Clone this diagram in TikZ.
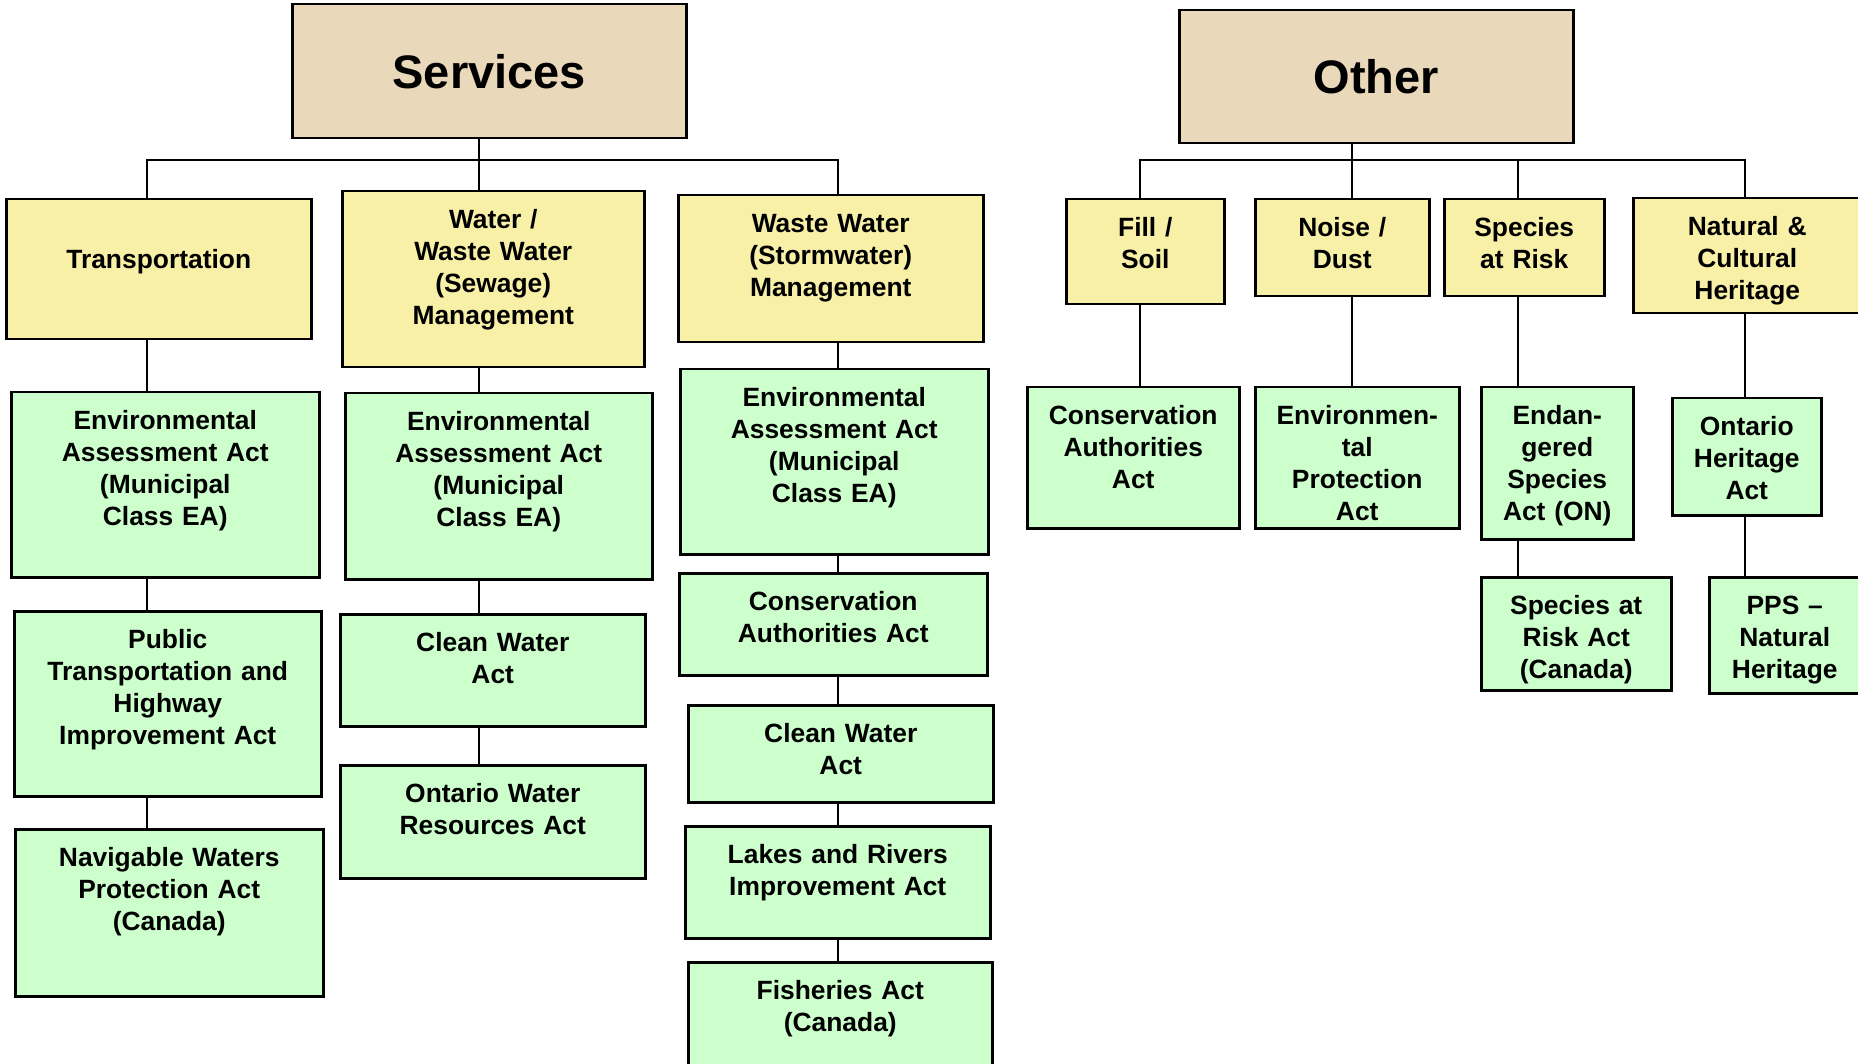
\documentclass[tikz,border=0pt]{standalone}
\usepackage{fontspec}
\setmainfont{Liberation Sans}
\usepackage{tikz}
\usetikzlibrary{calc}

\definecolor{headtan}{RGB}{233,216,185}
\definecolor{areayellow}{RGB}{249,240,168}
\definecolor{actgreen}{RGB}{204,255,204}

\begin{document}
\begin{tikzpicture}[x=1pt,y=-1pt]
    \tikzstyle{every node}+=[inner sep=0pt]
    \tikzstyle{head}=[draw=black, line width=2.5pt, fill=headtan, anchor=north west,
        font=\fontsize{47}{56}\selectfont\bfseries]
    \tikzstyle{area}=[draw=black, line width=2.5pt, fill=areayellow, anchor=north west,
        align=center, text height=37pt, font=\fontsize{26.4}{32}\selectfont\bfseries]
    \tikzstyle{act}=[area, fill=actgreen]
    \tikzstyle{link}=[draw=black, line width=2pt]
    \useasboundingbox (0,0) rectangle (1858,1064);

    % Services
    \node [head, minimum width=394pt, minimum height=134pt] (services) at (291,3) {Services};
    \node [area, text width=305pt, text height=69pt, text depth=71pt] (transport) at (5,198) {Transportation};
    \node [area, text width=302pt, text depth=139pt] (water) at (341,190) {Water /\\Waste Water\\(Sewage)\\Management};
    \node [area, text width=305pt, text depth=110pt] (storm) at (677,194) {Waste Water\\(Stormwater)\\Management};
    \node [act, text width=308pt, text depth=148pt] (eaa1) at (10,391) {Environmental\\Assessment Act\\(Municipal\\Class EA)};
    \node [act, text width=307pt, text depth=148pt] (public) at (13,610) {Public\\Transportation and\\Highway\\Improvement Act};
    \node [act, text width=308pt, text depth=130pt] (navig) at (14,828) {Navigable Waters\\Protection Act\\(Canada)};
    \node [act, text width=307pt, text depth=149pt] (eaa2) at (344,392) {Environmental\\Assessment Act\\(Municipal\\Class EA)};
    \node [act, text width=305pt, text depth=75pt] (clean1) at (339,613) {Clean Water\\Act};
    \node [act, text width=305pt, text depth=76pt] (owra) at (339,764) {Ontario Water\\Resources Act};
    \node [act, text width=308pt, text depth=148pt] (eaa3) at (679,368) {Environmental\\Assessment Act\\(Municipal\\Class EA)};
    \node [act, text width=308pt, text depth=65pt] (caa1) at (678,572) {Conservation\\Authorities Act};
    \node [act, text width=305pt, text depth=60pt] (clean2) at (687,704) {Clean Water\\Act};
    \node [act, text width=305pt, text depth=75pt] (lakes) at (684,825) {Lakes and Rivers\\Improvement Act};
    \node [act, text width=304pt, text depth=74pt] (fish) at (687,961) {Fisheries Act\\(Canada)};

    % Other
    \node [head, minimum width=394pt, minimum height=133pt] (other) at (1178,9) {Other};
    \node [area, text width=158pt, text depth=68pt] (fill) at (1065,198) {Fill /\\Soil};
    \node [area, text width=174pt, text depth=60pt] (noise) at (1254,198) {Noise /\\Dust};
    \node [area, text width=160pt, text depth=60pt] (species) at (1443,198) {Species\\at Risk};
    \node [area, text width=228pt, text depth=78pt] (natural) at (1632,197) {Natural \&\\Cultural\\Heritage};
    \node [act, text width=212pt, text depth=104pt] (caa2) at (1026,386) {Conservation\\Authorities\\Act};
    \node [act, text width=204pt, text depth=104pt] (epa) at (1254,386) {Environmen-\\tal\\Protection\\Act};
    \node [act, text width=152pt, text depth=115pt] (esa) at (1480,386) {Endan-\\gered\\Species\\Act (ON)};
    \node [act, text width=190pt, text depth=76pt] (sara) at (1480,576) {Species at\\Risk Act\\(Canada)};
    \node [act, text width=149pt, text depth=80pt] (oha) at (1671,397) {Ontario\\Heritage\\Act};
    \node [act, text width=151pt, text depth=79pt] (pps) at (1708,576) {PPS –\\Natural\\Heritage};

    % connector columns
    \coordinate (tcol) at (147,160);
    \coordinate (wcol) at (479,160);
    \coordinate (scol) at (838,160);
    \coordinate (fcol) at (1140,160);
    \coordinate (ncol) at (1352,160);
    \coordinate (rcol) at (1518,160);
    \coordinate (hcol) at (1745,160);

    \draw [link] (transport.north -| tcol) -- (tcol) -- (scol) -- (storm.north -| scol);
    \draw [link] (services.south -| wcol) -- (water.north -| wcol);
    \draw [link] (transport.south -| tcol) -- (eaa1.north -| tcol);
    \draw [link] (eaa1.south -| tcol) -- (public.north -| tcol);
    \draw [link] (public.south -| tcol) -- (navig.north -| tcol);
    \draw [link] (water.south -| wcol) -- (eaa2.north -| wcol);
    \draw [link] (eaa2.south -| wcol) -- (clean1.north -| wcol);
    \draw [link] (clean1.south -| wcol) -- (owra.north -| wcol);
    \draw [link] (storm.south -| scol) -- (eaa3.north -| scol);
    \draw [link] (eaa3.south -| scol) -- (caa1.north -| scol);
    \draw [link] (caa1.south -| scol) -- (clean2.north -| scol);
    \draw [link] (clean2.south -| scol) -- (lakes.north -| scol);
    \draw [link] (lakes.south -| scol) -- (fish.north -| scol);

    \draw [link] (fill.north -| fcol) -- (fcol) -- (hcol) -- (natural.north -| hcol);
    \draw [link] (other.south -| ncol) -- (noise.north -| ncol);
    \draw [link] (rcol) -- (species.north -| rcol);
    \draw [link] (fill.south -| fcol) -- (caa2.north -| fcol);
    \draw [link] (noise.south -| ncol) -- (epa.north -| ncol);
    \draw [link] (species.south -| rcol) -- (esa.north -| rcol);
    \draw [link] (esa.south -| rcol) -- (sara.north -| rcol);
    \draw [link] (natural.south -| hcol) -- (oha.north -| hcol);
    \draw [link] (oha.south -| hcol) -- (pps.north -| hcol);
\end{tikzpicture}
\end{document}
